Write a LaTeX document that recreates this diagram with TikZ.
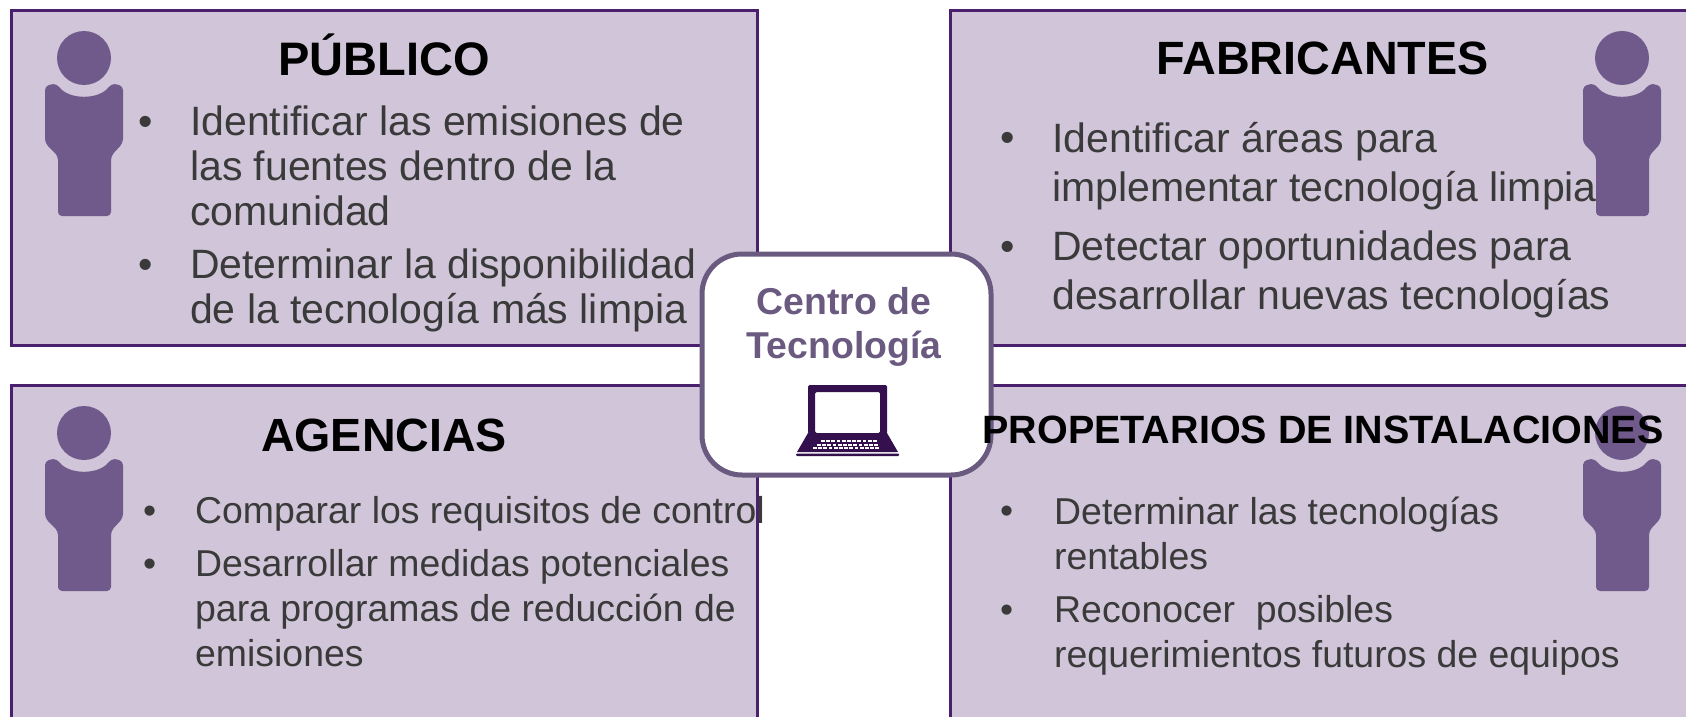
\documentclass[tikz,border=0pt]{standalone}
\usepackage{fontspec}
\setmainfont{Liberation Sans}
\definecolor{boxfill}{HTML}{D1C6D9}
\definecolor{boxline}{HTML}{4A1F6E}
\definecolor{personfill}{HTML}{705A8C}
\definecolor{centerline}{HTML}{6A5A80}
\definecolor{laptopfill}{HTML}{35104F}
\definecolor{bodytext}{HTML}{3A3A3A}

\newcommand{\itemdot}{•\vphantom{Id}}
\newcommand{\personicon}[1]{%
\begin{scope}[shift={#1}]
\fill[personfill]
  (0,0) circle (27);
\fill[personfill, rounded corners=4]
  (-39,85) -- (-39,28)
  .. controls (-35,27) and (-30,26) .. (-27,26)
  .. controls (-15,42) and (15,42) .. (27,26)
  .. controls (30,26) and (35,27) .. (39,28)
  -- (39,85) -- (27,98) -- (27,158) -- (-26,158) -- (-26,98) -- cycle;
\end{scope}}

\tikzset{
  groupbox/.style={draw=boxline, fill=boxfill, line width=3},
  grouptitle/.style={font=\fontsize{#1}{50}\selectfont\bfseries, text=black, inner sep=0},
  itemtext/.style 2 args={font=\fontsize{#1}{#2}\selectfont, text=bodytext, align=left, anchor=north west, inner sep=0},
}

\begin{document}
\begin{tikzpicture}[x=1pt, y=-1pt]
\clip (0,0) rectangle (1686,717);
\fill[white] (0,0) rectangle (1686,717);

\draw[groupbox] (11.5,10.5) rectangle (757,345);
\draw[groupbox] (950,10.5) rectangle (1700,345);
\draw[groupbox] (11.5,385) rectangle (757,730);
\draw[groupbox] (950,385) rectangle (1700,730);

\personicon{(84,58)}
\personicon{(1622,58)}
\personicon{(84,433)}
\personicon{(1622,433)}

% centre
\node[draw=centerline, fill=white, line width=5, rounded corners=40,
  minimum width=289, minimum height=221, inner sep=0] (center) at (846.5,364.5) {};
\node[font=\fontsize{37.4}{44.5}\selectfont\bfseries, text=centerline, align=center, inner sep=0]
  (centertitle) at (844,327) {Centro de\\Tecnología};

\begin{scope}[shift={(847,420)}]
\fill[laptopfill, rounded corners=1.5, even odd rule]
  (-39,-35) rectangle (40,14)
  (-32,-28) rectangle (33,13);
\fill[laptopfill]
  (-39,13) -- (40,13) -- (51,32) -- (-50,32) -- cycle;
\fill[laptopfill, rounded corners=1]
  (-51,33.5) rectangle (52,36);
\foreach \row/\shift/\num in {20/-26/11, 23.5/-30/12, 27/-34/13} {
  \foreach \i in {1,...,\num} {
    \fill[white] ({\shift+(\i-1)*5.2},\row) rectangle ++(3.8,2.4);
  }
}
\end{scope}

% upper left
\node[grouptitle=47] (publico) at (384,55) {PÚBLICO};
\node[itemtext={41}{44.6}] (pa) at (138,106) {\itemdot};
\node[itemtext={41}{44.6}] (pb) at (190,106) {Identificar las emisiones de\\las fuentes dentro de la\\comunidad};
\node[itemtext={41}{44.6}] (pc) at (138,249) {\itemdot};
\node[itemtext={41}{44.6}] (pd) at (190,249) {Determinar la disponibilidad\\de la tecnología más limpia};

% upper right
\node[grouptitle=46.7] (fabricantes) at (1322.5,58) {FABRICANTES};
\node[itemtext={41}{49.5}] (fa) at (1000,122) {\itemdot};
\node[itemtext={41}{49.5}] (fb) at (1052,122) {Identificar áreas para\\implementar tecnología limpia};
\node[itemtext={41}{49.5}] (fc) at (1000,230.5) {\itemdot};
\node[itemtext={41}{49.5}] (fd) at (1052,230.5) {Detectar oportunidades para\\desarrollar nuevas tecnologías};

% lower left
\node[grouptitle=46.6] (agencias) at (384,435) {AGENCIAS};
\node[itemtext={37.4}{45}] (aa) at (143,496.5) {\itemdot};
\node[itemtext={37.4}{45}] (ab) at (195,496.5) {Comparar los requisitos de control};
\node[itemtext={37.4}{45}] (ac) at (143,549.5) {\itemdot};
\node[itemtext={37.4}{45}] (ad) at (195,549.5) {Desarrollar medidas potenciales\\para programas de reducción de\\emisiones};

% lower right
\node[grouptitle=39.5] (propietarios) at (1323,430) {PROPETARIOS DE INSTALACIONES};
\node[itemtext={37.4}{45}] (ia) at (1000,496.5) {\itemdot};
\node[itemtext={37.4}{45}] (ib) at (1054,496.5) {Determinar las tecnologías\\rentables};
\node[itemtext={37.4}{45}] (ic) at (1000,595.5) {\itemdot};
\node[itemtext={37.4}{45}] (id) at (1054,595.5) {Reconocer\ \ posibles\\requerimientos futuros de equipos};
\end{tikzpicture}
\end{document}
